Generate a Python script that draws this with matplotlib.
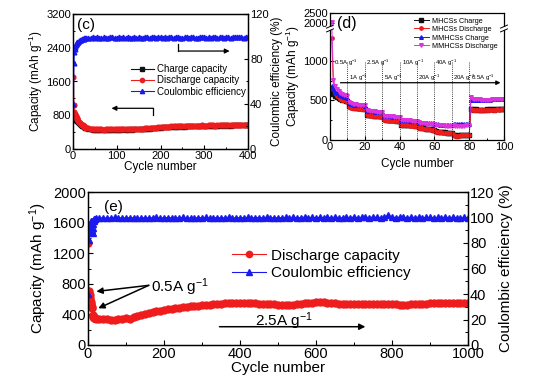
import numpy as np
import matplotlib
matplotlib.use('Agg')
import matplotlib.pyplot as plt
from matplotlib.ticker import MultipleLocator, FixedLocator
from matplotlib.scale import FuncScale
from matplotlib.patches import Rectangle

plt.rcParams['font.family'] = ['Liberation Sans', 'DejaVu Sans']
plt.rcParams['mathtext.fontset'] = 'custom'
plt.rcParams['mathtext.rm'] = 'Liberation Sans'
plt.rcParams['mathtext.default'] = 'regular'
plt.rcParams['xtick.direction'] = 'in'
plt.rcParams['ytick.direction'] = 'in'

# ---------------- data: panel (c) ----------------
c_cycles = list(range(1, 11)) + list(range(12, 31, 2)) + list(range(35, 401, 5))
c_discharge = [1700, 1050, 880, 840, 800, 780, 760, 740, 720, 700,
               670, 640, 620, 600, 580, 560, 545, 530, 515, 500,
               490, 478, 470, 465, 468, 463, 466, 462, 465, 468,
               463, 467, 470, 468, 465, 470, 473, 468, 471, 475,
               470, 474, 478, 476, 480, 484, 487, 490, 494, 498,
               502, 507, 512, 517, 522, 526, 530, 533, 536, 538,
               536, 540, 544, 541, 538, 543, 548, 546, 550, 553,
               556, 553, 558, 556, 553, 558, 562, 559, 556, 560,
               564, 567, 563, 568, 566, 563, 568, 571, 574, 569,
               572, 575, 578, 575]
c_charge = [690, 800, 770, 750, 730, 710, 695, 680, 668, 655,
            630, 608, 588, 570, 552, 536, 522, 510, 498, 486,
            478, 467, 460, 456, 459, 455, 457, 453, 456, 459,
            455, 458, 461, 459, 456, 461, 464, 460, 462, 466,
            462, 465, 469, 467, 471, 475, 478, 481, 485, 489,
            493, 498, 503, 508, 513, 517, 521, 524, 527, 529,
            527, 531, 535, 532, 529, 534, 539, 537, 541, 544,
            547, 544, 549, 547, 544, 549, 553, 550, 547, 551,
            555, 558, 554, 559, 557, 554, 559, 562, 565, 560,
            563, 566, 569, 566]
c_ce = [40, 76, 86, 89, 91, 92, 93, 94, 94.5, 95,
        95.5, 96, 96.5, 97, 97.5, 97.8, 98, 98.3, 98.5, 98.7,
        99.0, 98.6, 99.2, 98.8, 99.4, 99.0, 98.7, 99.3, 99.1, 98.8,
        99.2, 99.5, 98.9, 99.1, 99.4, 98.8, 99.2, 99.0, 99.5, 99.1,
        98.8, 99.3, 99.0, 99.4, 99.1, 98.9, 99.3, 99.6, 99.0, 99.2,
        99.4, 98.9, 99.2, 99.5, 99.1, 99.3, 98.8, 99.2, 99.4, 99.0,
        99.3, 99.6, 99.1, 98.8, 99.2, 99.4, 99.0, 99.3, 99.5, 99.1,
        98.9, 99.3, 99.6, 99.2, 99.0, 99.4, 99.1, 99.5, 99.2, 98.9,
        99.3, 99.5, 99.1, 99.4, 99.2, 99.0, 99.5, 99.3, 99.6, 99.2,
        99.4, 99.1, 99.5, 99.3]

# ---------------- data: panel (d) ----------------
d_cycles = list(range(1, 101))
d_mhcs_charge = [620, 580, 560, 545, 530, 520, 510, 500, 495, 488,
                 425, 418, 412, 408, 405, 403, 401, 400, 398, 396,
                 322, 318, 314, 311, 308, 306, 304, 302, 301, 300,
                 260, 256, 253, 251, 249, 248, 247, 246, 245, 244,
                 195, 192, 190, 188, 187, 186, 185, 184, 183, 183,
                 160, 154, 150, 146, 143, 140, 137, 134, 131, 129,
                 108, 104, 101, 98, 96, 95, 93, 92, 91, 89,
                 64, 59, 56, 58, 61, 63, 65, 66, 68, 69,
                 395, 390, 386, 387, 383, 385, 381, 383, 385, 387,
                 385, 389, 387, 385, 391, 393, 390, 395, 393, 395]
d_mhcs_discharge = [1290, 650, 590, 560, 540, 525, 510, 500, 490, 480,
                    415, 410, 405, 402, 400, 398, 396, 395, 393, 392,
                    315, 312, 308, 305, 303, 302, 300, 298, 297, 296,
                    255, 250, 248, 246, 245, 244, 243, 242, 241, 240,
                    190, 188, 186, 185, 184, 183, 182, 181, 180, 180,
                    155, 150, 146, 142, 140, 136, 133, 130, 128, 125,
                    105, 100, 98, 95, 93, 92, 90, 90, 88, 86,
                    60, 55, 52, 55, 58, 60, 62, 63, 65, 66,
                    390, 385, 380, 382, 378, 380, 376, 378, 380, 382,
                    380, 384, 382, 380, 386, 388, 385, 390, 388, 390]
d_mmhcs_charge = [680, 640, 610, 590, 575, 565, 555, 545, 538, 530,
                  465, 458, 452, 448, 445, 443, 441, 440, 438, 436,
                  375, 370, 366, 363, 361, 360, 358, 357, 356, 355,
                  305, 302, 300, 299, 298, 297, 296, 295, 295, 294,
                  252, 250, 249, 248, 247, 246, 246, 245, 245, 244,
                  225, 220, 217, 215, 213, 212, 211, 210, 209, 208,
                  200, 198, 196, 195, 194, 193, 192, 192, 191, 190,
                  200, 198, 200, 202, 201, 203, 204, 205, 206, 207,
                  500, 505, 507, 508, 509, 510, 510, 511, 511, 512,
                  512, 512, 513, 513, 513, 514, 514, 514, 515, 515]
d_mmhcs_discharge = [2050, 760, 680, 640, 615, 600, 585, 575, 565, 555,
                     475, 465, 458, 453, 450, 447, 445, 443, 441, 440,
                     382, 375, 370, 367, 364, 362, 360, 359, 358, 357,
                     310, 305, 302, 300, 299, 298, 297, 296, 296, 295,
                     256, 252, 250, 249, 248, 247, 246, 246, 245, 245,
                     222, 216, 212, 210, 207, 205, 203, 202, 200, 198,
                     192, 188, 186, 185, 184, 183, 182, 181, 180, 180,
                     185, 180, 178, 180, 181, 182, 183, 184, 185, 186,
                     550, 520, 515, 514, 513, 513, 512, 512, 512, 512,
                     512, 512, 513, 513, 513, 514, 514, 514, 514, 515]
d_rate_steps = [10, 20, 30, 40, 50, 60, 70, 80]
d_rate_labels = ['0.5A g$^{-1}$', '1A g$^{-1}$', '2.5A g$^{-1}$', '5A g$^{-1}$',
                 '10A g$^{-1}$', '20A g$^{-1}$', '40A g$^{-1}$', '20A g$^{-1}$',
                 '0.5A g$^{-1}$']
d_rate_x = [2.3, 11, 20.5, 31, 41.5, 50.5, 60.5, 70.5, 81]
d_rate_y = [975, 790, 975, 790, 975, 790, 975, 790, 790]

# ---------------- data: panel (e) ----------------
e_cycles = list(range(1, 21)) + list(range(30, 1001, 10))
e_discharge = [1330, 700, 680, 650, 620, 590, 560, 540, 520, 500,
               480, 390, 375, 365, 360, 355, 350, 350, 348, 345,
               345, 340, 335, 330, 330, 335, 340, 350, 345, 360,
               375, 390, 405, 420, 430, 440, 450, 460, 468, 475,
               482, 488, 494, 500, 505, 510, 515, 520, 524, 528,
               532, 536, 540, 543, 546, 548, 550, 550, 549, 548,
               546, 544, 541, 538, 535, 532, 530, 527, 525, 524,
               525, 528, 533, 540, 546, 551, 555, 558, 560, 558,
               553, 548, 544, 541, 539, 538, 537, 537, 536, 536,
               535, 535, 534, 534, 533, 533, 532, 531, 530, 528,
               527, 529, 532, 535, 538, 540, 542, 544, 545, 546,
               547, 548, 548, 549, 550, 550, 551, 552]
e_ce = [40, 82, 88, 92, 94, 95, 96, 96, 97, 97,
        90, 88, 92, 95, 97, 98, 98.5, 99, 99, 99.5,
        99.6, 99.9, 99.4, 99.8, 100.1, 99.5, 99.9, 99.6, 100.0, 99.7,
        99.8, 99.5, 100.0, 99.7, 99.9, 100.2, 99.6, 99.8, 100.0, 99.7,
        99.9, 99.6, 100.1, 99.4, 99.8, 100.0, 99.7, 99.9, 100.1, 99.6,
        99.8, 100.0, 99.7, 99.9, 100.2, 99.8, 99.6, 100.0, 99.8, 100.1,
        99.7, 99.9, 100.0, 99.8, 100.2, 99.9, 99.7, 100.0, 99.8, 100.1,
        99.9, 100.2, 99.8, 100.0, 100.3, 99.9, 100.1, 99.8, 100.2, 100.0,
        100.1, 99.9, 100.3, 100.0, 99.8, 100.2, 100.0, 100.3, 99.9, 100.1,
        100.2, 100.0, 100.4, 100.1, 99.9, 100.3, 102.0, 100.2, 100.0, 100.3,
        100.1, 99.9, 100.2, 100.0, 100.3, 99.8, 100.1, 100.2, 99.9, 100.1,
        100.0, 100.2, 99.9, 100.1, 100.0, 99.8, 100.1, 99.9]

RED = '#ee1c1c'
BLUE = '#1a1aee'
MAG = '#dd33dd'
BLK = '#111111'

W, H = 558, 384
fig = plt.figure(figsize=(W / 100, H / 100), dpi=100)


def box(l, t, r, b):
    return [l / W, 1 - b / H, (r - l) / W, (b - t) / H]


def style(ax, fs, major=3.0, minor=1.7):
    ax.tick_params(which='major', length=major, width=0.8, labelsize=fs, pad=1.5)
    ax.tick_params(which='minor', length=minor, width=0.7)
    for s in ax.spines.values():
        s.set_linewidth(0.9)


# ================= panel (c) =================
axc = fig.add_axes(box(73, 14, 248, 149))
axc.plot(c_cycles, c_charge, '-s', color=BLK, ms=2.8, lw=0.8, label='Charge capacity')
axc.plot(c_cycles, c_discharge, '-o', color=RED, ms=3.4, lw=0.8, label='Discharge capacity')
axc.set_xlim(0, 400)
axc.set_ylim(0, 3200)
axc.yaxis.set_major_locator(MultipleLocator(800))
axc.yaxis.set_minor_locator(MultipleLocator(400))
axc.xaxis.set_major_locator(MultipleLocator(100))
axc.xaxis.set_minor_locator(MultipleLocator(50))
axc.set_xlabel('Cycle number', fontsize=8.5, labelpad=0)
axc.set_ylabel('Capacity (mAh g$^{-1}$)', fontsize=8.5, labelpad=1)
style(axc, 8)
axc2 = axc.twinx()
axc2.plot(c_cycles, c_ce, '-^', color=BLUE, ms=3.4, lw=0.8, label='Coulombic efficiency')
axc2.set_ylim(0, 120)
axc2.yaxis.set_major_locator(MultipleLocator(40))
axc2.yaxis.set_minor_locator(MultipleLocator(20))
axc2.set_ylabel('Coulombic efficiency (%)', fontsize=8.5, labelpad=2)
style(axc2, 8)
axc.text(10, 2950, '(c)', fontsize=11, va='center', ha='left')
h1, l1 = axc.get_legend_handles_labels()
h2, l2 = axc2.get_legend_handles_labels()
axc2.legend(h1 + h2, l1 + l2, loc='upper left', bbox_to_anchor=(0.33, 0.63),
            frameon=False, fontsize=7, handlelength=2.4, handletextpad=0.3,
            labelspacing=0.15, borderpad=0, borderaxespad=0, markerscale=0.9)
# arrows in (c)
axc.plot([183, 183], [808, 965], color='k', lw=0.9)
axc.annotate('', xy=(88, 965), xytext=(183, 965),
             arrowprops=dict(arrowstyle='-|>', color='k', lw=0.9, mutation_scale=7,
                             shrinkA=0, shrinkB=0))
axc.plot([241, 241], [2494, 2322], color='k', lw=0.9)
axc.annotate('', xy=(358, 2322), xytext=(241, 2322),
             arrowprops=dict(arrowstyle='-|>', color='k', lw=0.9, mutation_scale=7,
                             shrinkA=0, shrinkB=0))

# ================= panel (d) =================
B, K = 1305.0, 0.253


def fwd(v):
    v = np.asarray(v, dtype=float)
    return np.where(v <= B, v, B + (v - B) * K)


def inv(u):
    u = np.asarray(u, dtype=float)
    return np.where(u <= B, u, B + (u - B) / K)


axd = fig.add_axes(box(330, 13, 504, 140))
axd.set_yscale(FuncScale(axd, (fwd, inv)))
axd.plot(d_cycles, d_mhcs_charge, '-s', color=BLK, ms=2.2, lw=0.7, label='MHCSs Charge')
axd.plot(d_cycles, d_mhcs_discharge, '-o', color=RED, ms=2.4, lw=0.7, label='MHCSs Discharge')
axd.plot(d_cycles, d_mmhcs_charge, '-^', color=BLUE, ms=2.6, lw=0.7, label='MMHCSs Charge')
axd.plot(d_cycles, d_mmhcs_discharge, '-v', color=MAG, ms=2.6, lw=0.7, label='MMHCSs Discharge')
axd.set_xlim(0, 100)
axd.set_ylim(0, 2500)
axd.yaxis.set_major_locator(FixedLocator([0, 500, 1000, 2000, 2500]))
axd.yaxis.set_minor_locator(FixedLocator([250, 750]))
axd.xaxis.set_major_locator(MultipleLocator(20))
axd.xaxis.set_minor_locator(MultipleLocator(10))
axd.set_xlabel('Cycle number', fontsize=8.5, labelpad=4)
axd.set_ylabel('Capacity (mAh g$^{-1}$)', fontsize=8.5, labelpad=1)
style(axd, 8)
axd.vlines(d_rate_steps, 0, 990, colors='k', linestyles=(0, (1, 1.5)), lw=0.6)
for lab, x, y in zip(d_rate_labels, d_rate_x, d_rate_y):
    axd.text(x, y, lab, fontsize=4.3, ha='left', va='center')
axd.annotate('', xy=(98, 725), xytext=(6, 725),
             arrowprops=dict(arrowstyle='-|>', color='k', lw=0.9, mutation_scale=6,
                             shrinkA=0, shrinkB=0))
axd.text(0.04, 0.915, '(d)', transform=axd.transAxes, fontsize=11.5, va='center', ha='left')
axd.legend(loc='upper left', bbox_to_anchor=(0.48, 0.965), frameon=False, fontsize=5.2,
           handlelength=2.2, handletextpad=0.3, labelspacing=0.2, borderpad=0,
           borderaxespad=0)
# axis-break marks
by = 0.885
for xs in (0.0, 1.0):
    axd.add_patch(Rectangle((xs - 0.02, by - 0.022), 0.04, 0.03, transform=axd.transAxes,
                            facecolor='white', edgecolor='none', clip_on=False, zorder=5))
    for dy in (-0.022, 0.008):
        axd.plot([xs - 0.02, xs + 0.02], [by + dy - 0.012, by + dy + 0.012],
                 transform=axd.transAxes, color='k', lw=0.7, clip_on=False, zorder=6)

# ================= panel (e) =================
axe = fig.add_axes(box(88, 192, 468, 345))
axe.plot(e_cycles, e_discharge, '-o', color=RED, ms=5, lw=0.8, label='Discharge capacity')
axe.set_xlim(0, 1000)
axe.set_ylim(0, 2000)
axe.yaxis.set_major_locator(MultipleLocator(400))
axe.yaxis.set_minor_locator(MultipleLocator(200))
axe.xaxis.set_major_locator(MultipleLocator(200))
axe.xaxis.set_minor_locator(MultipleLocator(100))
axe.set_xlabel('Cycle number', fontsize=11, labelpad=0)
axe.set_ylabel('Capacity (mAh g$^{-1}$)', fontsize=11, labelpad=3)
style(axe, 10.5, major=3.5, minor=2)
axe2 = axe.twinx()
axe2.plot(e_cycles, e_ce, '-^', color=BLUE, ms=5, lw=0.8, label='Coulombic efficiency')
axe2.set_ylim(0, 120)
axe2.yaxis.set_major_locator(MultipleLocator(20))
axe2.yaxis.set_minor_locator(MultipleLocator(10))
axe2.set_ylabel('Coulombic efficiency (%)', fontsize=11, labelpad=3)
style(axe2, 10.5, major=3.5, minor=2)
axe.text(42, 1800, '(e)', fontsize=11, va='center', ha='left')
h1, l1 = axe.get_legend_handles_labels()
h2, l2 = axe2.get_legend_handles_labels()
axe2.legend(h1 + h2, l1 + l2, loc='upper left', bbox_to_anchor=(0.38, 0.63),
            frameon=False, fontsize=11, handlelength=2.2, handletextpad=0.3,
            labelspacing=0.25, borderpad=0, borderaxespad=0, markerscale=0.9)
for tip in [(22, 700), (27, 480)]:
    axe.annotate('', xy=tip, xytext=(160, 780),
                 arrowprops=dict(arrowstyle='-|>', color='k', lw=1.1, mutation_scale=9,
                                 shrinkA=0, shrinkB=0))
axe.text(165, 760, '0.5A g$^{-1}$', fontsize=11, va='center', ha='left')
axe.annotate('', xy=(730, 239), xytext=(346, 239),
             arrowprops=dict(arrowstyle='-|>', color='k', lw=1.1, mutation_scale=9,
                             shrinkA=0, shrinkB=0))
axe.text(440, 310, '2.5A g$^{-1}$', fontsize=11, va='center', ha='left')

fig.savefig('out.png', dpi=100)
